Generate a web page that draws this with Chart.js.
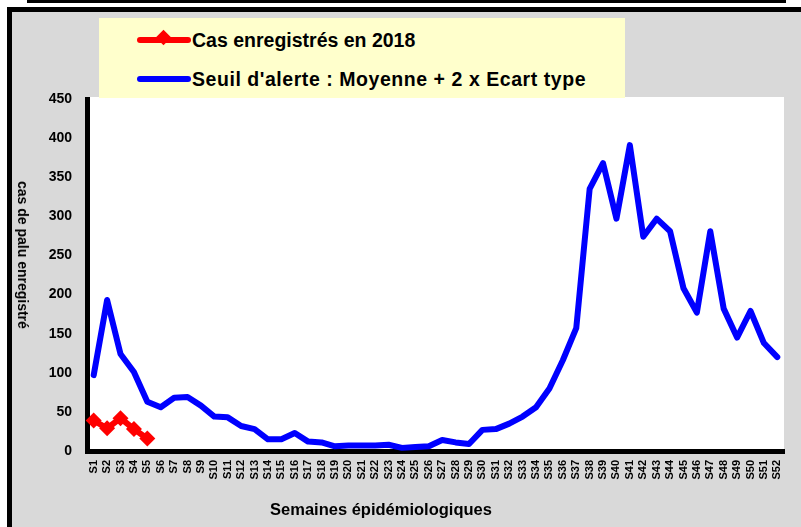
<!DOCTYPE html>
<html>
<head>
<meta charset="utf-8">
<script src="https://cdn.jsdelivr.net/npm/chart.js@4/dist/chart.umd.min.js"></script>
<style>
  body { margin: 0; width: 801px; height: 527px; position: relative; overflow: hidden; background: #fff; }
  #topline { position: absolute; left: 27px; top: 0; width: 759px; height: 3px; background: #000; }
  #frame { position: absolute; left: 7px; top: 7px; width: 810px; height: 540px; background: #d9d9d9;
           border-left: 5px solid #000; border-top: 5px solid #000; }
  #chart { position: absolute; left: 0; top: 0; }
  #legend { position: absolute; left: 99px; top: 18px; width: 526px; height: 80px; background: #ffffcc; }
  .item { position: absolute; left: 38px; height: 24px; display: flex; align-items: center;
          font: bold 19.5px "Liberation Sans", sans-serif; color: #000; white-space: nowrap; }
  .swatch { position: relative; width: 54px; height: 6px; border-radius: 3px; margin-right: 1px; }
  .diamond { position: absolute; left: 21px; top: -5px; width: 11px; height: 11px; background: #ff0000; transform: rotate(45deg); }
  #ytitle { position: absolute; left: 23px; top: 255px; transform: translate(-50%, -50%) rotate(90deg);
            font: bold 14px "Liberation Sans", sans-serif; white-space: nowrap; }
  #xtitle { position: absolute; left: 381px; top: 509px; transform: translate(-50%, -50%);
            font: bold 16.5px "Liberation Sans", sans-serif; white-space: nowrap; }
</style>
</head>
<body>
<div id="topline"></div>
<div id="frame"></div>
<canvas id="chart" width="801" height="527"></canvas>
<div id="legend">
  <div class="item" style="top:10px"><span class="swatch" style="background:#ff0000"><span class="diamond"></span></span>Cas enregistrés en 2018</div>
  <div class="item" style="top:49px; letter-spacing:0.55px"><span class="swatch" style="background:#0000ff"></span>Seuil d'alerte : Moyenne + 2 x Ecart type</div>
</div>
<div id="ytitle">cas de palu enregistré</div>
<div id="xtitle">Semaines épidémiologiques</div>
<script>
const weeks = ['S1', 'S2', 'S3', 'S4', 'S5', 'S6', 'S7', 'S8', 'S9', 'S10',
  'S11', 'S12', 'S13', 'S14', 'S15', 'S16', 'S17', 'S18', 'S19', 'S20',
  'S21', 'S22', 'S23', 'S24', 'S25', 'S26', 'S27', 'S28', 'S29', 'S30',
  'S31', 'S32', 'S33', 'S34', 'S35', 'S36', 'S37', 'S38', 'S39', 'S40',
  'S41', 'S42', 'S43', 'S44', 'S45', 'S46', 'S47', 'S48', 'S49', 'S50',
  'S51', 'S52'];

// cas enregistrés en 2018 (only first weeks)
const cases2018 = [39, 29, 42, 28, 16];

// seuil d'alerte : moyenne + 2 x écart type
const alertThreshold = [97, 193, 124, 101, 63, 56, 68, 69, 58, 44,
  43, 32, 28, 15, 15, 23, 12, 11, 6, 7,
  7, 7, 8, 4, 5, 6, 14, 11, 9, 27,
  28, 35, 44, 56, 80, 116, 157, 335, 368, 297,
  391, 274, 297, 281, 208, 177, 281, 182, 145, 179,
  138, 120];

const yTicks = { min: 0, max: 450, step: 50 };

const plotBg = {
  id: 'plotBg',
  beforeDraw(chart) {
    const a = chart.chartArea;
    const ctx = chart.ctx;
    ctx.save();
    ctx.fillStyle = '#fff';
    ctx.fillRect(a.left, a.top - 2, a.right - a.left, a.bottom - a.top + 2);
    ctx.restore();
  }
};

new Chart(document.getElementById('chart'), {
  type: 'line',
  data: {
    labels: weeks,
    datasets: [{
      label: 'Cas enregistrés en 2018',
      data: cases2018,
      borderColor: '#ff0000',
      backgroundColor: '#ff0000',
      borderWidth: 6,
      pointStyle: 'rectRot',
      pointRadius: 8,
      pointBorderWidth: 0,
      pointBackgroundColor: '#ff0000'
    }, {
      label: "Seuil d'alerte : Moyenne + 2 x Ecart type",
      data: alertThreshold,
      borderColor: '#0000ff',
      backgroundColor: '#0000ff',
      borderWidth: 6,
      pointRadius: 0,
      borderJoinStyle: 'round',
      borderCapStyle: 'round'
    }]
  },
  options: {
    responsive: false,
    animation: false,
    layout: { padding: { top: 99, right: 17, left: 0, bottom: 0 } },
    plugins: { legend: { display: false }, tooltip: { enabled: false } },
    scales: {
      x: {
        offset: true,
        grid: { display: false, drawTicks: false },
        border: { color: '#000', width: 5 },
        ticks: {
          autoSkip: false, minRotation: 90, maxRotation: 90, padding: 9, color: '#000',
          font: { family: '"Liberation Sans", sans-serif', size: 11, weight: 'bold' }
        },
        afterFit(scale) { scale.height = 76; }
      },
      y: {
        min: yTicks.min,
        max: yTicks.max,
        grid: { display: false, drawTicks: false },
        border: { color: '#000', width: 5 },
        ticks: {
          stepSize: yTicks.step, padding: 15, color: '#000',
          font: { family: '"Liberation Sans", sans-serif', size: 14, weight: 'bold' }
        },
        afterFit(scale) { scale.width = 87; }
      }
    }
  },
  plugins: [plotBg]
});
</script>
</body>
</html>
